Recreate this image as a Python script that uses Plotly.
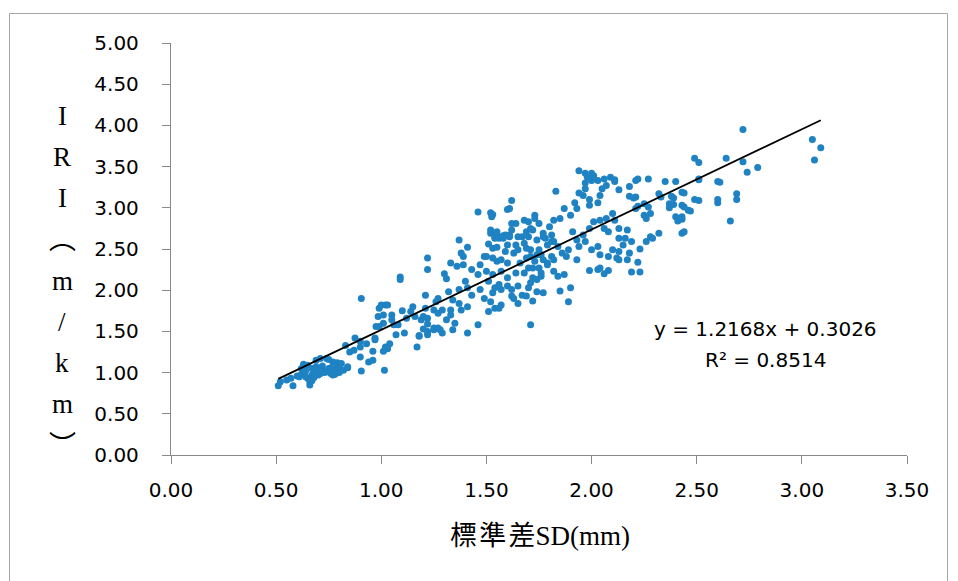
import plotly.graph_objects as go

# (SD, IRI) pairs
points = [
    (0.51,0.84),(0.52,0.89),(0.55,0.91),(0.57,0.93),(0.58,0.84),(0.60,0.96),(0.61,0.95),(0.62,1.05),(0.62,0.98),
    (0.63,0.99),(0.63,1.10),(0.64,0.95),(0.64,1.02),(0.65,1.09),(0.65,0.93),(0.66,0.85),(0.66,0.89),(0.67,0.90),
    (0.67,0.97),(0.67,1.05),(0.68,1.02),(0.68,0.94),(0.69,1.15),(0.69,1.07),(0.70,1.03),(0.70,0.97),(0.71,1.17),
    (0.71,0.99),(0.72,1.03),(0.72,1.08),(0.73,1.00),(0.74,1.17),(0.74,1.01),(0.75,1.16),(0.75,1.05),(0.76,0.99),
    (0.76,1.06),(0.77,0.97),(0.77,1.13),(0.78,0.98),(0.78,1.03),(0.79,1.07),(0.79,1.12),(0.80,1.05),(0.80,1.00),
    (0.81,1.11),(0.82,1.03),(0.83,1.33),(0.84,1.06),(0.84,1.07),(0.85,1.25),(0.87,1.27),(0.875,1.42),(0.90,1.31),
    (0.90,1.19),(0.90,1.38),(0.905,1.02),(0.905,1.90),(0.93,1.35),(0.94,1.13),(0.96,1.26),(0.96,1.15),(0.97,1.42),
    (0.97,1.40),(0.975,1.56),(0.985,1.68),(0.99,1.56),(0.99,1.78),(1.00,1.82),(1.01,1.60),(1.01,1.26),(1.015,1.03),
    (1.02,1.31),(1.02,1.82),(1.03,1.82),(1.03,1.29),(1.04,1.35),(1.01,1.70),
    (1.05,1.70),(1.05,1.64),(1.06,1.58),(1.07,1.46),(1.08,1.58),(1.09,2.16),(1.09,2.13),(1.10,1.75),(1.11,1.48),
    (1.12,1.66),(1.14,1.74),(1.15,1.80),(1.16,1.68),(1.17,1.31),(1.18,1.45),(1.18,1.44),(1.19,1.64),(1.20,1.68),
    (1.20,1.53),(1.21,1.78),(1.21,1.94),(1.22,2.39),(1.22,2.25),(1.22,1.50),(1.22,1.66),(1.22,1.59),(1.22,1.46),
    (1.25,1.52),(1.25,1.76),(1.25,1.54),(1.26,1.86),(1.27,1.90),(1.27,1.72),(1.27,1.54),(1.28,1.52),(1.29,1.76),
    (1.29,1.48),(1.30,2.20),(1.31,2.14),(1.31,1.64),(1.32,1.98),(1.33,2.33),(1.33,1.76),(1.33,1.70),(1.34,1.88),
    (1.34,1.52),(1.35,1.60),(1.36,2.29),(1.37,2.61),(1.37,2.01),(1.37,1.84),(1.38,1.76),(1.38,2.45),(1.39,2.41),
    (1.39,2.31),(1.41,1.48),(1.40,2.11),(1.41,2.03),(1.41,1.80),(1.41,2.52),(1.43,2.25),(1.43,1.94),(1.46,1.58),
    (1.46,2.19),(1.46,2.95),(1.47,2.01),(1.47,2.31),(1.49,2.41),(1.49,1.90),(1.50,2.23),(1.50,2.41),(1.51,2.11),
    (1.51,1.74),(1.51,2.56),(1.52,2.69),(1.52,1.86),(1.52,2.94),(1.52,2.73),(1.525,2.89),(1.53,2.51),(1.53,2.19),
    (1.53,2.92),(1.53,1.97),(1.53,2.39),(1.54,2.65),(1.54,2.03),(1.54,1.78),(1.54,2.63),(1.55,2.35),(1.55,2.68),
    (1.55,2.52),(1.55,2.71),(1.56,2.07),(1.56,1.78),(1.56,2.63),(1.57,2.23),(1.57,2.37),(1.57,2.01),(1.57,1.82),
    (1.58,2.63),(1.58,2.66),(1.59,2.47),(1.59,2.67),(1.60,2.33),(1.60,2.55),(1.60,2.15),(1.60,2.05),(1.60,2.98),
    (1.61,2.65),(1.61,2.99),(1.61,2.67),(1.62,3.09),(1.62,2.81),(1.62,2.01),(1.62,2.73),(1.62,1.93),(1.63,2.45),
    (1.63,1.90),(1.64,2.21),(1.64,2.55),(1.64,2.81),(1.65,1.84),(1.65,2.05),(1.65,2.65),(1.65,2.49),(1.66,2.33),
    (1.67,2.65),(1.67,1.94),(1.68,2.21),(1.68,2.85),(1.68,2.57),(1.69,2.39),(1.69,2.71),(1.69,2.51),(1.69,1.93),
    (1.70,2.65),(1.70,2.27),(1.70,2.83),(1.70,2.03),(1.71,2.49),(1.71,1.58),(1.71,2.75),(1.71,2.41),(1.71,2.09),
    (1.72,2.15),(1.72,2.73),(1.72,2.27),(1.72,1.87),(1.73,2.35),(1.73,2.91),(1.73,2.87),(1.74,1.98),(1.74,2.61),
    (1.74,2.43),(1.74,2.13),(1.75,2.27),(1.75,2.81),(1.75,2.49),(1.76,2.43),(1.76,2.17),(1.76,2.21),(1.77,2.69),
    (1.77,2.37),(1.77,2.65),(1.77,1.97),(1.78,2.63),(1.79,2.55),(1.79,2.33),(1.79,2.31),(1.80,2.77),(1.81,2.59),
    (1.81,2.41),(1.81,2.67),(1.82,2.85),(1.82,2.59),(1.82,2.37),(1.82,2.23),(1.83,3.20),(1.84,2.53),(1.84,2.17),
    (1.85,2.87),(1.85,1.99),(1.86,2.45),(1.87,2.99),(1.87,2.19),(1.88,2.41),(1.89,2.49),(1.89,1.86),(1.90,2.91),
    (1.90,2.03),(1.91,2.71),(1.92,3.06),(1.93,2.99),(1.93,2.37),(1.93,2.61),(1.94,3.18),(1.94,2.53),(1.94,3.45),
    (1.96,3.15),(1.96,2.67),(1.97,3.23),(1.97,3.42),(1.97,2.59),(1.97,3.30),(1.98,3.37),(1.99,2.75),(1.99,3.10),
    (1.99,3.03),(1.99,2.24),(2.00,3.33),(2.00,2.49),(2.00,3.42),(2.01,3.39),(2.01,2.83),(2.03,3.33),(2.03,3.06),
    (2.03,2.53),(2.03,2.25),(2.04,3.15),(2.04,2.85),(2.04,2.43),(2.04,2.27),(2.05,3.23),(2.06,2.75),(2.06,2.20),
    (2.06,3.35),(2.07,3.27),(2.07,2.87),(2.08,2.71),(2.08,2.41),(2.08,2.24),(2.09,3.37),(2.10,2.93),(2.10,2.49),
    (2.11,3.34),(2.11,2.85),(2.11,3.32),(2.12,2.39),(2.13,2.75),(2.13,2.63),(2.13,2.37),(2.13,2.47),(2.13,3.22),
    (2.15,2.55),(2.16,2.63),(2.17,2.73),(2.17,2.37),(2.18,3.26),(2.18,3.14),(2.18,2.45),(2.19,2.59),(2.19,2.22),
    (2.20,3.12),(2.21,3.13),(2.21,2.99),(2.21,3.33),(2.22,3.35),(2.22,3.02),(2.22,2.34),(2.23,2.22),(2.23,2.50),
    (2.25,2.91),(2.25,3.05),(2.26,2.87),(2.26,2.59),(2.27,3.01),(2.27,3.35),(2.28,2.93),(2.28,2.65),(2.29,2.63),
    (2.32,3.17),(2.32,2.69),(2.33,3.13),(2.35,3.32),(2.37,3.05),(2.37,3.00),(2.38,3.14),(2.39,3.12),(2.39,3.04),
    (2.40,3.32),(2.40,2.89),(2.41,2.84),(2.43,3.19),(2.43,3.03),(2.43,2.69),(2.43,2.89),(2.43,2.86),(2.44,3.18),
    (2.44,3.01),(2.44,2.71),(2.46,2.97),(2.47,2.96),(2.49,3.60),(2.49,3.10),(2.51,3.55),(2.51,3.35),(2.51,3.34),
    (2.51,3.09),(2.60,3.32),(2.60,3.10),(2.60,3.06),(2.61,3.31),(2.64,3.60),(2.66,2.84),(2.69,3.17),(2.69,3.10),
    (2.72,3.95),(2.72,3.56),(2.74,3.43),(2.79,3.49),(3.05,3.83),(3.06,3.58),(3.09,3.73),
]
sd_mm = [p[0] for p in points]
iri = [p[1] for p in points]

SLOPE = 1.2168
INTERCEPT = 0.3026
R2 = 0.8514

x_ticks = [0, 0.5, 1.0, 1.5, 2.0, 2.5, 3.0, 3.5]
y_ticks = [0, 0.5, 1.0, 1.5, 2.0, 2.5, 3.0, 3.5, 4.0, 4.5, 5.0]
y_title_chars = ["I", "R", "I", "︵", "m", "/", "k", "m", "︶"]
x_title = "標\u200a準\u200a差SD(mm)"

x_lo, x_hi = min(sd_mm), max(sd_mm)
trend_x = [x_lo, x_hi]
trend_y = [SLOPE * v + INTERCEPT for v in trend_x]

fig = go.Figure()
fig.add_trace(go.Scatter(x=sd_mm, y=iri, mode="markers",
                         marker=dict(color="#1f82c2", size=7, line=dict(width=0)),
                         showlegend=False, hoverinfo="x+y"))
fig.add_trace(go.Scatter(x=trend_x, y=trend_y, mode="lines",
                         line=dict(color="black", width=1.8), showlegend=False))

W, H = 958, 581
L, R, T, B = 171, 51, 43, 126
pw, ph = W - L - R, H - T - B

def px2paper_x(px):
    return (px - L) / pw

def px2paper_y(py):
    return (H - B - py) / ph

tickfont = dict(family="DejaVu Sans", size=20, color="#000000")
axis_common = dict(showgrid=False, zeroline=False, showline=True, linecolor="#898989",
                   linewidth=1.3, ticks="outside", tickcolor="#898989", ticklen=8,
                   tickwidth=1.3, tickformat=".2f", tickfont=tickfont)

fig.update_layout(
    width=W, height=H, margin=dict(l=L, r=R, t=T, b=B, pad=0),
    paper_bgcolor="white", plot_bgcolor="white",
    xaxis=dict(range=[0, 3.5], tickvals=x_ticks, ticklabelstandoff=9, **axis_common),
    yaxis=dict(range=[0, 5], tickvals=y_ticks, ticklabelstandoff=19, **axis_common),
)

annotations = []
for i, ch in enumerate(y_title_chars):
    annotations.append(dict(text=ch, x=px2paper_x(62), y=px2paper_y(116 + i * 41.2),
                            xref="paper", yref="paper", showarrow=False,
                            xanchor="center", yanchor="middle",
                            font=dict(family="Liberation Serif, Noto Sans CJK TC", size=27, color="#000")))
annotations.append(dict(text=x_title, x=px2paper_x(540), y=px2paper_y(536),
                        xref="paper", yref="paper", showarrow=False,
                        xanchor="center", yanchor="middle",
                        font=dict(family="Liberation Serif, Noto Sans CJK TC", size=27, color="#000")))
eq_font = dict(family="DejaVu Sans", size=20, color="#000")
annotations.append(dict(text=f"y = {SLOPE:.4f}x + {INTERCEPT:.4f}", x=px2paper_x(765), y=px2paper_y(329),
                        xref="paper", yref="paper", showarrow=False,
                        xanchor="center", yanchor="middle", font=eq_font))
annotations.append(dict(text=f"R² = {R2:.4f}", x=px2paper_x(765), y=px2paper_y(360),
                        xref="paper", yref="paper", showarrow=False,
                        xanchor="center", yanchor="middle", font=eq_font))
fig.update_layout(annotations=annotations)

fig.add_shape(type="rect", xref="paper", yref="paper",
              x0=px2paper_x(9.5), x1=px2paper_x(947.5), y0=px2paper_y(600), y1=px2paper_y(13.5),
              line=dict(color="#a6a6a6", width=1), fillcolor="rgba(0,0,0,0)", layer="below")

fig.write_html("out.html")
